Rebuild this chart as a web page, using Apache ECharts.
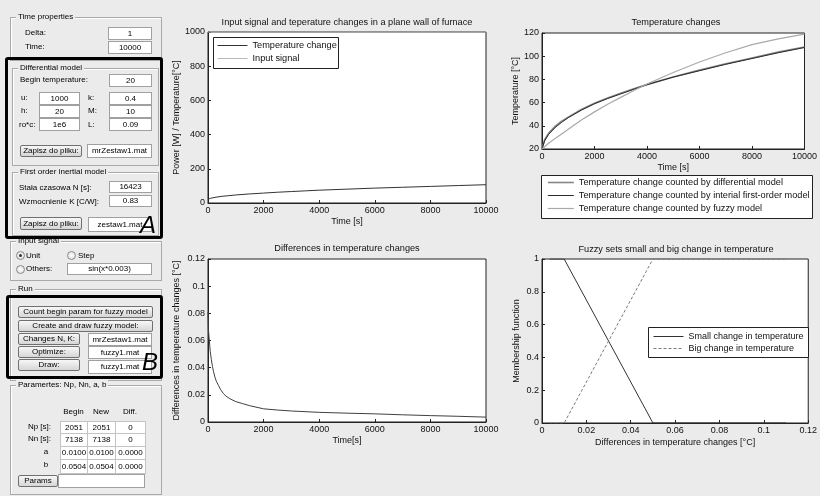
<!DOCTYPE html>
<html>
<head>
<meta charset="utf-8">
<script src="https://cdn.jsdelivr.net/npm/echarts@6/dist/echarts.min.js"></script>
<style>
  body { margin: 0; background: #ebebeb; font-family: 'Liberation Sans', Arial, sans-serif; }
  #main { position: absolute; left: 0; top: 0; width: 820px; height: 496px; }
  #panel { position: absolute; left: 0; top: 0; width: 165px; height: 496px; font-size: 8px; color: #000; }
  #panel div { position: absolute; box-sizing: border-box; white-space: nowrap; }
  .gb { border: 1px solid #a9a9a9; box-shadow: inset 1px 1px 0 #fff; }
  .gbt { background: #ebebeb; padding: 0 2px; line-height: 10px; }
  .lbl { line-height: 10px; }
  .ed { background: #fff; border: 1px solid #a0a0a0; text-align: center; }
  .bt { background: linear-gradient(#f7f7f7, #d6d6d6); border: 1px solid #707070; border-radius: 2px; text-align: center; }
  .bx { border: 3px solid #000; border-radius: 3px; }
  .big { font-size: 24px; font-style: italic; line-height: 24px; }
  .rd { width: 9px; height: 9px; border-radius: 50%; border: 1px solid #8a8a8a; background: radial-gradient(#fff, #d8d8d8); }
  .dot { width: 3px; height: 3px; border-radius: 50%; background: #333; }
</style>
</head>
<body>
<div id="main"></div>
<div id="panel"></div>
<script>
// --- data ---
const timeS = [0, 100, 250, 500, 750, 1000, 1500, 2000, 2500, 3000, 3500, 4000, 5000, 6000, 7000, 8000, 9000, 10000]
// plot 1: input signal and temperature in the furnace wall
const tempChange = [22, 28, 33, 39, 43, 47, 53, 58, 63, 67, 71, 75, 81, 87, 92, 97, 102, 107]
const inputTime = [0, 10000]
const inputSignal = [1000, 1000]
// plot 2: temperature changes by model
const diffModel = [20, 28, 33.5, 39.5, 44, 47.5, 54, 59.5, 64, 68, 72, 75.5, 82, 88, 93.5, 98.5, 103.5, 108]
const firstOrderModel = [20, 27, 32.5, 38.5, 43, 47, 53.5, 59, 63.5, 67.5, 71.5, 75.5, 82, 87.5, 93, 98, 103, 107.5]
const fuzzyModel = [20, 22, 25, 29, 33, 37, 45, 52, 58.5, 64.5, 70.5, 76, 86, 95, 103, 110, 115, 119]
// plot 3: differences in temperature changes
const diffTime = [0, 15, 40, 80, 120, 160, 200, 250, 300, 375, 450, 550, 650, 800, 1000, 1250, 1500, 2000, 2500, 3000, 4000, 5000, 6000, 7000, 8000, 9000, 10000]
const tempDiff = [0.081, 0.068, 0.062, 0.052, 0.046, 0.041, 0.037, 0.033, 0.030, 0.027, 0.024, 0.021, 0.019, 0.017, 0.015, 0.0135, 0.012, 0.0097, 0.0088, 0.0081, 0.0071, 0.0065, 0.006, 0.0053, 0.0047, 0.0042, 0.0036]
// plot 4: fuzzy sets
const fuzzyX = [0.0035, 0.01, 0.05, 0.11]
const smallChange = [1, 1, 0, 0]
const bigChange = [0, 0, 1, 1]

// --- left GUI panel ---
const panel = document.getElementById('panel')
function put(cls, x, y, w, h, text) {
  const d = document.createElement('div')
  d.className = cls
  d.style.left = x + 'px'
  d.style.top = y + 'px'
  if (w) d.style.width = w + 'px'
  if (h) { d.style.height = h + 'px'; d.style.lineHeight = (h - 2) + 'px' }
  if (text) d.textContent = text
  panel.appendChild(d)
  return d
}
function label(x, cy, text) { put('lbl', x, cy - 5, 0, 0, text) }

const groups = [
  [10, 17, 152, 44, 'Time properties'],
  [12, 68, 147, 98, 'Differential model'],
  [12, 172, 147, 64, 'First order inertial model'],
  [10, 241, 152, 40, 'Input signal'],
  [10, 289, 152, 92, 'Run'],
  [10, 385, 152, 110, 'Paramertes:  Np, Nn, a, b']
]
groups.forEach(g => {
  put('gb', g[0], g[1], g[2], g[3])
  put('gbt', g[0] + 6, g[1] - 5, 0, 0, g[4])
})

label(25, 33, 'Delta:'); label(25, 47, 'Time:')
label(20, 80, 'Begin temperature:')
label(21, 98, 'u:'); label(21, 111, 'h:'); label(19, 125, 'ro*c:')
label(88, 98, 'k:'); label(88, 111, 'M:'); label(88, 125, 'L:')
label(19, 188, 'Stała czasowa N [s]:'); label(19, 202, 'Wzmocnienie K [C/W]:')

const edits = [
  [108, 27, 44, 13, '1'], [108, 41, 44, 13, '10000'], [109, 74, 43, 13, '20'],
  [39, 92, 41, 13, '1000'], [39, 105, 41, 13, '20'], [39, 118, 41, 13, '1e6'],
  [109, 92, 43, 13, '0.4'], [109, 105, 43, 13, '10'], [109, 118, 43, 13, '0.09'],
  [87, 144, 65, 14, 'mrZestaw1.mat'], [109, 181, 43, 12, '16423'], [109, 195, 43, 12, '0.83'],
  [88, 217, 64, 15, 'zestaw1.mat'],
  [67, 263, 85, 12, 'sin(x*0.003)'],
  [88, 333, 64, 13, 'mrZestaw1.mat'], [88, 346, 64, 13, 'fuzzy1.mat'], [88, 360, 64, 14, 'fuzzy1.mat'],
  [58, 474, 87, 14, '']
]
edits.forEach(e => put('ed', e[0], e[1], e[2], e[3], e[4]))

const buttons = [
  [20, 145, 62, 12, 'Zapisz do pliku:'], [20, 217, 62, 13, 'Zapisz do pliku:'],
  [18, 306, 135, 12, 'Count begin param for fuzzy model'],
  [18, 320, 135, 12, 'Create and draw fuzzy model:'],
  [18, 333, 62, 12, 'Changes N, K:'], [18, 346, 62, 12, 'Optimize:'], [18, 359, 62, 12, 'Draw:'],
  [18, 475, 40, 12, 'Params']
]
buttons.forEach(b => put('bt', b[0], b[1], b[2], b[3], b[4]))

// radio buttons
put('rd', 16, 251); put('dot', 19, 254); label(26, 256, 'Unit')
put('rd', 67, 251); label(78, 256, 'Step')
put('rd', 16, 265); label(26, 269, 'Others:')

// parameter table
const tableCols = [60, 87, 115, 145]
const tableRows = [421, 433, 446, 459, 473]
const tableHead = ['Begin', 'New', 'Diff.']
const rowNames = ['Np [s]:', 'Nn [s]:', 'a', 'b']
const tableVals = [
  ['2051', '2051', '0'],
  ['7138', '7138', '0'],
  ['0.0100', '0.0100', '0.0000'],
  ['0.0504', '0.0504', '0.0000']
]
tableHead.forEach((t, i) => {
  const d = put('lbl', tableCols[i], 407, tableCols[i + 1] - tableCols[i], 0, t)
  d.style.textAlign = 'center'
})
rowNames.forEach((t, r) => {
  const d = put('lbl', 20, tableRows[r] + 1, 31, 0, t)
  d.style.textAlign = r < 2 ? 'right' : 'center'
  if (r >= 2) { d.style.left = '38px'; d.style.width = '16px' }
  tableVals[r].forEach((v, c) => {
    const e = put('ed', tableCols[c], tableRows[r], tableCols[c + 1] - tableCols[c] + 1, tableRows[r + 1] - tableRows[r] + 1, v)
    e.style.borderColor = '#c4c4c4'
  })
})

// black frames A and B
put('bx', 5, 57, 158, 182)
put('big', 140, 213, 0, 0, 'A')
put('bx', 6, 295, 157, 84)
put('big', 142, 350, 0, 0, 'B')

// --- charts ---
const pairs = (xs, ys) => xs.map((x, i) => [x, ys[i]])
const font = 'Liberation Sans'

const grids = [
  { left: 208, top: 32, width: 278, height: 171 },
  { left: 542, top: 33, width: 269, height: 116 },
  { left: 208, top: 259, width: 278, height: 163 },
  { left: 542, top: 259, width: 269, height: 164 }
].map(g => Object.assign({ show: true, backgroundColor: '#fff', borderColor: '#222', borderWidth: 1 }, g))

function axis(gridIndex, min, max, interval, name, gap) {
  return {
    type: 'value', gridIndex, min, max, interval,
    name, nameLocation: 'middle', nameGap: gap,
    nameTextStyle: { fontFamily: font, fontSize: 9, color: '#111' },
    axisLine: { show: true, onZero: false, lineStyle: { color: '#222', width: 1 } },
    axisTick: { show: true, inside: true, length: 3, lineStyle: { color: '#222' } },
    axisLabel: {
      fontFamily: font, fontSize: 9, color: '#111', margin: 3,
      showMaxLabel: true, showMinLabel: true,
      formatter: v => String(+v.toFixed(4))
    },
    splitLine: { show: false }
  }
}

const xAxes = [
  axis(0, 0, 10000, 2000, 'Time [s]', 14),
  axis(1, 0, 10000, 2000, 'Time [s]', 14),
  axis(2, 0, 10000, 2000, 'Time[s]', 14),
  axis(3, 0, 0.12, 0.02, 'Differences in temperature changes [°C]', 15)
]
const yAxes = [
  axis(0, 0, 1000, 200, 'Power [W] / Temperature[°C]', 27),
  axis(1, 20, 120, 20, 'Temperature [°C]', 22),
  axis(2, 0, 0.12, 0.02, 'Differences in temperature changes [°C]', 27),
  axis(3, 0, 1, 0.2, 'Membership function', 21)
]

function line(name, idx, data, color, width, dash) {
  return {
    name, type: 'line', xAxisIndex: idx, yAxisIndex: idx, data,
    symbol: 'none', smooth: false,
    lineStyle: { color, width, type: dash || 'solid' },
    itemStyle: { color },
    z: 2
  }
}

const series = [
  line('Temperature change', 0, pairs(timeS, tempChange), '#333', 1),
  line('Input signal', 0, pairs(inputTime, inputSignal), '#b8b8b8', 1),
  line('Temperature change counted by differential model', 1, pairs(timeS, diffModel), '#858585', 1.6),
  line('Temperature change counted by interial first-order model', 1, pairs(timeS, firstOrderModel), '#2b2b2b', 1),
  line('Temperature change counted by fuzzy model', 1, pairs(timeS, fuzzyModel), '#a9a9a9', 1.2),
  line('Differences', 2, pairs(diffTime, tempDiff), '#404040', 1),
  line('Small change in temperature', 3, pairs(fuzzyX, smallChange), '#333', 1),
  line('Big change in temperature', 3, pairs(fuzzyX, bigChange), '#7a7a7a', 1, [3, 2])
]

function legend(names, left, top, itemWidth, fontSize, gap) {
  return {
    data: names, orient: 'vertical', left, top, padding: 0,
    itemWidth, itemHeight: 10, itemGap: gap, selectedMode: false,
    itemStyle: { opacity: 0 },
    lineStyle: { width: 'inherit' },
    textStyle: { fontFamily: font, fontSize, color: '#111' },
    z: 5
  }
}

function legendBox(x, y, w, h) {
  return { type: 'rect', shape: { x, y, width: w, height: h }, style: { fill: '#fff', stroke: '#222', lineWidth: 1 }, z: 3 }
}
function title(x, y, text) {
  return { type: 'text', x, y, style: { text, fontFamily: font, fontSize: 9.2, fill: '#111', align: 'center', verticalAlign: 'middle' }, z: 5 }
}

const chart = echarts.init(document.getElementById('main'))
chart.setOption({
  backgroundColor: 'transparent',
  animation: false,
  grid: grids,
  xAxis: xAxes,
  yAxis: yAxes,
  series,
  legend: [
    legend(['Temperature change', 'Input signal'], 217, 41, 30, 9.2, 4),
    legend(['Temperature change counted by differential model', 'Temperature change counted by interial first-order model', 'Temperature change counted by fuzzy model'], 547, 178, 26, 9.2, 4),
    legend(['Small change in temperature', 'Big change in temperature'], 653, 332, 30, 9, 3)
  ],
  graphic: [
    legendBox(213.5, 37.5, 125, 31),
    legendBox(541.5, 175.5, 271, 43),
    legendBox(648.5, 327.5, 160, 30),
    title(347, 22, 'Input signal and teperature changes in a plane wall of furnace'),
    title(676, 22, 'Temperature changes'),
    title(347, 248, 'Differences in temperature changes'),
    title(676, 249, 'Fuzzy sets small and big change in temperature')
  ]
})
</script>
</body>
</html>
